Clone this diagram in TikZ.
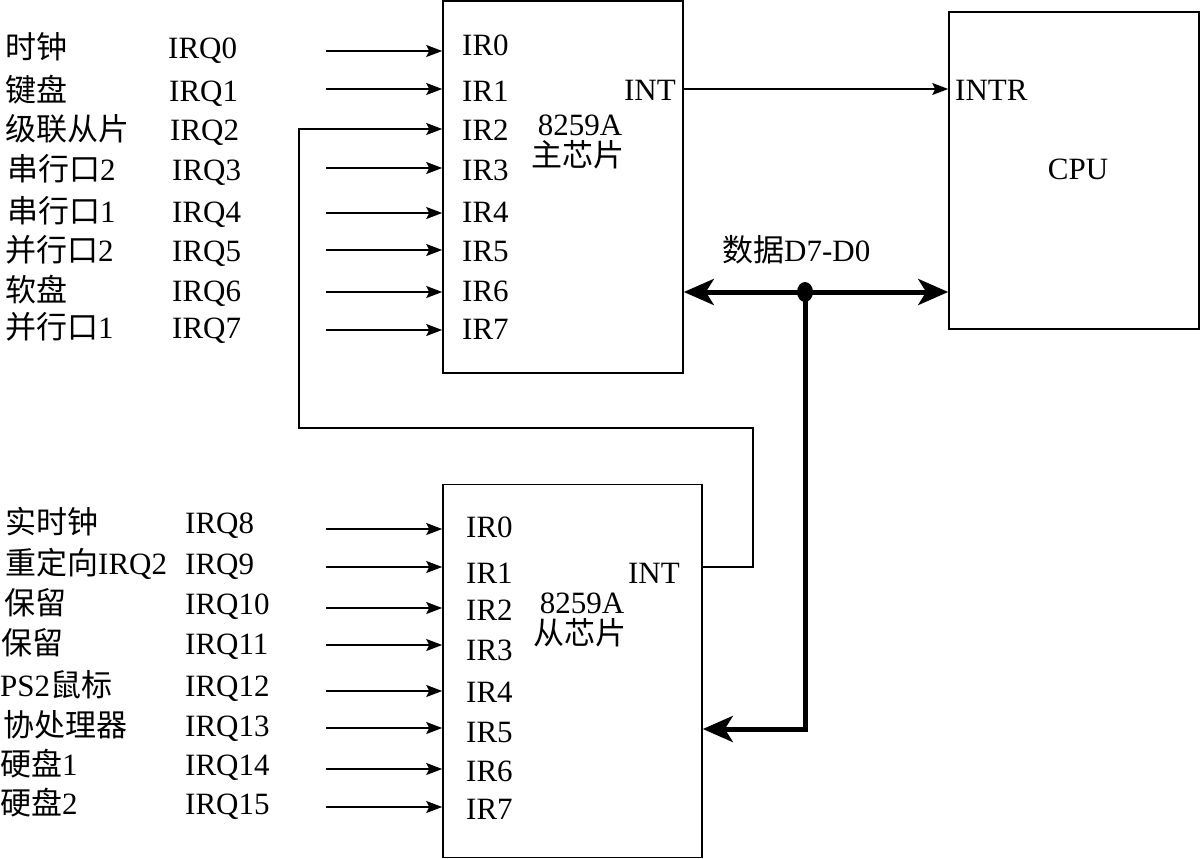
\documentclass[tikz,border=0pt]{standalone}
\usepackage{fontspec}
\setmainfont{Liberation Serif}
\newfontfamily\cjk{Noto Sans CJK SC}
\usetikzlibrary{arrows.meta}
\begin{document}
\begin{tikzpicture}[x=1pt,y=-1pt,
  every node/.style={font=\fontsize{31}{36}\selectfont, inner sep=0pt},
  lab/.style={anchor=base west},
  labr/.style={anchor=base east},
  box/.style={draw, line width=1.6pt, inner sep=0pt},
  sig/.style={line width=1.6pt, -{Stealth[length=16pt,width=12pt,inset=3pt]}},
  wire/.style={line width=1.6pt},
  bus/.style={line width=5pt},
  bigtip/.tip={Stealth[length=30pt,width=26pt,inset=8pt]}
]
\useasboundingbox (0,0) rectangle (1200,859);

% boxes
\node[box, minimum width=240pt, minimum height=372pt] (m) at (563,187) {};
\node[box, minimum width=250pt, minimum height=317pt] (cpu) at (1074,170.5) {};
\node[box, minimum width=259pt, minimum height=373pt] (s) at (572.5,671) {};

% master box texts
\node[lab] (mir0) at (462,56) {IR0};
\node[lab] (mir1) at (462,101) {IR1};
\node[lab] (mir2) at (462,140) {IR2};
\node[lab] (mir3) at (462,180) {IR3};
\node[lab] (mir4) at (462,222) {IR4};
\node[lab] (mir5) at (462,261) {IR5};
\node[lab] (mir6) at (462,301) {IR6};
\node[lab] (mir7) at (462,339) {IR7};
\node (mchip) at (580,125) {8259A};
\node (mname) at (578,155) {\cjk 主芯片};
\node[labr] (mint) at (676,100) {INT};

% cpu texts
\node[lab] (intr) at (955,100) {INTR};
\node (cpulab) at (1078,169) {CPU};

% slave box texts
\node[lab] (sir0) at (466,537) {IR0};
\node[lab] (sir1) at (466,583) {IR1};
\node[lab] (sir2) at (466,620) {IR2};
\node[lab] (sir3) at (466,660) {IR3};
\node[lab] (sir4) at (466,702) {IR4};
\node[lab] (sir5) at (466,742) {IR5};
\node[lab] (sir6) at (466,781) {IR6};
\node[lab] (sir7) at (466,819) {IR7};
\node (schip) at (582,603) {8259A};
\node (sname) at (580,633) {\cjk 从芯片};
\node[labr] (sint) at (680,583) {INT};

% data bus label
\node[lab] (data) at (722,261) {{\cjk 数据}D7-D0};

% master left labels
\node[lab] (d0) at (5,59) {\cjk 时钟};
\node[lab] (d1) at (5,101) {\cjk 键盘};
\node[lab] (d2) at (5,140) {\cjk 级联从片};
\node[lab] (d3) at (7,180) {{\cjk 串行口}2};
\node[lab] (d4) at (7,222) {{\cjk 串行口}1};
\node[lab] (d5) at (5,261) {{\cjk 并行口}2};
\node[lab] (d6) at (5,301) {\cjk 软盘};
\node[lab] (d7) at (5,338) {{\cjk 并行口}1};
\node[lab] (q0) at (168,59) {IRQ0};
\node[lab] (q1) at (169,101) {IRQ1};
\node[lab] (q2) at (170,140) {IRQ2};
\node[lab] (q3) at (172,180) {IRQ3};
\node[lab] (q4) at (172,222) {IRQ4};
\node[lab] (q5) at (172,261) {IRQ5};
\node[lab] (q6) at (172,301) {IRQ6};
\node[lab] (q7) at (172,338) {IRQ7};

% slave left labels
\node[lab] (d8) at (5,533) {\cjk 实时钟};
\node[lab] (d9) at (5,574) {{\cjk 重定向}IRQ2};
\node[lab] (d10) at (4,614) {\cjk 保留};
\node[lab] (d11) at (1,654) {\cjk 保留};
\node[lab] (d12) at (0,696) {PS2{\cjk 鼠标}};
\node[lab] (d13) at (3,736) {\cjk 协处理器};
\node[lab] (d14) at (0,775) {{\cjk 硬盘}1};
\node[lab] (d15) at (0,814) {{\cjk 硬盘}2};
\node[lab] (q8) at (185,533) {IRQ8};
\node[lab] (q9) at (185,574) {IRQ9};
\node[lab] (q10) at (185,614) {IRQ10};
\node[lab] (q11) at (185,654) {IRQ11};
\node[lab] (q12) at (185,696) {IRQ12};
\node[lab] (q13) at (185,736) {IRQ13};
\node[lab] (q14) at (185,775) {IRQ14};
\node[lab] (q15) at (185,814) {IRQ15};

% master input arrows
\foreach \i/\y in {0/51,1/89,3/168,4/213,5/250,6/292,7/330}{
  \coordinate (ma\i) at (326,\y);
  \draw[sig] (ma\i) -- (ma\i -| m.west);
}
% slave input arrows
\foreach \i/\y in {0/529,1/567,2/608,3/645,4/691,5/728,6/769,7/807}{
  \coordinate (sa\i) at (326,\y);
  \draw[sig] (sa\i) -- (sa\i -| s.west);
}

% INT -> INTR
\coordinate (yint) at (0,89);
\draw[sig] (m.east |- yint) -- (cpu.west |- yint);

% cascade: slave INT -> master IR2
\coordinate (ysint) at (0,567);
\coordinate (c2) at (753,428);
\coordinate (c1) at (299,428);
\coordinate (yir2) at (0,129);
\draw[sig] (s.east |- ysint) -- (c2 |- ysint) -- (c2) -- (c1) -- (c1 |- yir2) -- (m.west |- yir2);

% data bus
\coordinate (j) at (805,292);
\coordinate (ysbus) at (0,729);
\draw[bus, {bigtip}-{bigtip}] (m.east |- j) -- (cpu.west |- j);
\draw[bus, -{bigtip}] (j) |- (s.east |- ysbus);
\fill (j) ellipse (8pt and 10pt);
\end{tikzpicture}
\end{document}
